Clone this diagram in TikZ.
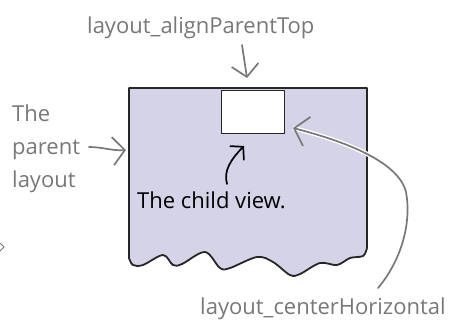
\documentclass[tikz,border=0pt]{standalone}
\usepackage{fontspec}
\setmainfont{Open Sans}
\usetikzlibrary{arrows.meta, bending}
\definecolor{notegray}{HTML}{787878}
\definecolor{lilac}{HTML}{D5D3E7}

\begin{document}
\begin{tikzpicture}[x=1pt, y=-1pt,
    remark/.style={font=\fontsize{22}{33}\selectfont, text=notegray, inner sep=0pt},
    ptr/.style={-{Straight Barb[length=12pt, width=27pt]}, draw=notegray, line width=1.7pt, line cap=round},
]
\useasboundingbox (0,0) rectangle (454,322);

% parent layout with torn bottom edge
\draw[fill=lilac, line width=1.8pt, line join=round, draw=black!85] (129,88) -- (367,88) -- (367,248)
  -- plot[smooth, tension=0.55] coordinates {(367,248) (363,256) (350,258) (337,265) (320,263) (300,274) (290,275) (273,262) (257,257) (230,268) (220,268) (205,252) (182,264) (173,265) (163,255) (143,265) (133,265) (129,258)}
  -- cycle;

% child view
\node[draw=black!85, fill=white, line width=1.6pt, minimum width=63pt, minimum height=43pt, anchor=north west, inner sep=0pt] (view) at (220.5,89.5) {};

% labels
\node[remark, anchor=base west] (top) at (87,33) {layout\_alignParentTop};
\node[remark, anchor=north west, align=left] (parent) at (12,105) {The\\parent\\layout};
\node[remark, anchor=base west] (centre) at (200,314) {layout\_centerHorizontal};
\node[font=\fontsize{22}{26}\selectfont, inner sep=0pt, anchor=base west] (child) at (137,208) {The child view.};

\coordinate (toptail) at (242,45);
\coordinate (toptip) at (247,78);
\coordinate (ptail) at (89,147);
\coordinate (ptip) at (126,150);
\coordinate (ctail) at (378,288);
\coordinate (ctip) at (293,128);
\coordinate (vtail) at (227,184);
\coordinate (vtip) at (244,146);

% connectors
\draw[ptr] (toptail) -- (toptip);
\draw[ptr, -{Straight Barb[length=12pt, width=28pt]}] (ptail) to[out=0, in=185] (ptip);
\draw[white, line width=4.5pt] (ctail) .. controls (400,262) and (412,225) .. (406,192) .. controls (398,160) and (340,140) .. (ctip);
\draw[ptr, -{Straight Barb[length=13pt, width=30pt]}] (ctail) .. controls (400,262) and (412,225) .. (406,192) .. controls (398,160) and (340,140) .. (ctip);
\draw[ptr, draw=black, -{Straight Barb[length=9pt, width=20pt]}] (vtail) .. controls (223,170) and (232,158) .. (vtip);

% cut-off mark at left edge
\draw[notegray, line width=1pt] (0,243) -- (4,247) -- (0,251);

\end{tikzpicture}
\end{document}
